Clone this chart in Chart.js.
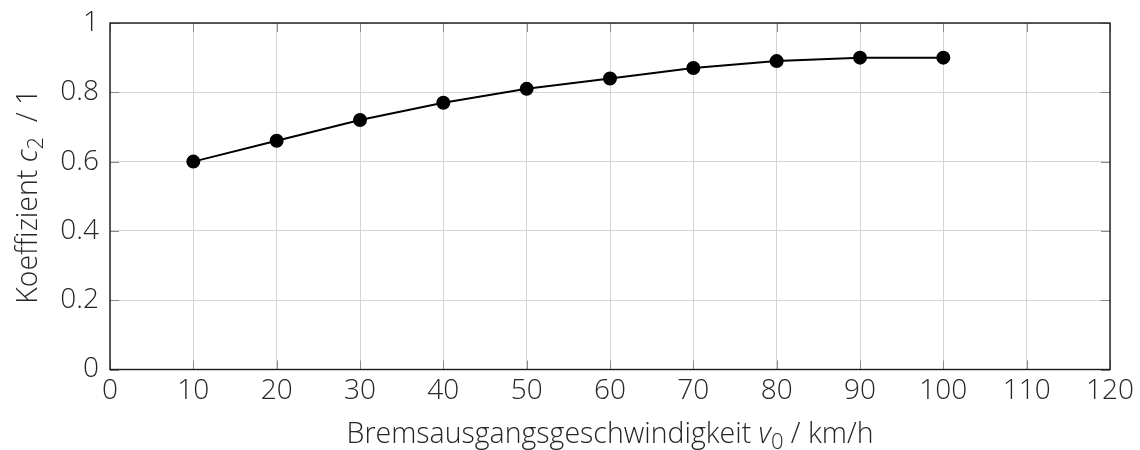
<!DOCTYPE html>
<html>
<head>
<meta charset="utf-8">
<script src="https://cdn.jsdelivr.net/npm/chart.js@4"></script>
<style>
  html, body { margin: 0; padding: 0; background: #fff; }
  #wrap { width: 1140px; height: 450px; }
</style>
</head>
<body>
<div id="wrap"><canvas id="c"></canvas></div>
<script>
// Braking start speed (km/h) and the fitted coefficient c2
const speeds = [10, 20, 30, 40, 50, 60, 70, 80, 90, 100];
const coeffC2 = [0.60, 0.66, 0.72, 0.77, 0.81, 0.84, 0.87, 0.89, 0.90, 0.90];

const xRange = [0, 120];
const yRange = [0, 1];
const xStep = 10;
const yStep = 0.2;

// Axis titles as rich-text runs: [text, style]
const xTitle = [["Bremsausgangsgeschwindigkeit ", "n"], ["v", "i"], ["0", "sub"], [" / km/h", "n"]];
const yTitle = [["Koeffizient ", "n"], ["c", "i"], ["2", "sub"], ["  / 1", "n"]];

const FONT = "'Open Sans', sans-serif";
const FS = 28;
const TITLE_FS = 28.5;

function runFont(style) {
  if (style === "i") return `italic 300 ${TITLE_FS}px ${FONT}`;
  if (style === "sub") return `300 ${Math.round(TITLE_FS * 0.76)}px ${FONT}`;
  return `300 ${TITLE_FS}px ${FONT}`;
}

function drawRich(ctx, runs, cx, cy) {
  let total = 0;
  const widths = runs.map(([t, s]) => { ctx.font = runFont(s); const w = ctx.measureText(t).width; total += w; return w; });
  let x = cx - total / 2;
  ctx.textBaseline = "alphabetic";
  ctx.textAlign = "left";
  runs.forEach(([t, s], i) => {
    ctx.font = runFont(s);
    ctx.fillText(t, x, s === "sub" ? cy + TITLE_FS * 0.22 : cy);
    x += widths[i];
  });
}

// Inward tick marks on all four sides, frame and axis titles
const framePlugin = {
  id: "frame",
  afterDraw(chart) {
    const { ctx, chartArea: a, scales } = chart;
    const len = 9;
    ctx.save();
    ctx.strokeStyle = "#8a8a8a";
    ctx.lineWidth = 1;
    ctx.beginPath();
    scales.x.ticks.forEach(t => {
      const px = Math.round(scales.x.getPixelForValue(t.value)) + 0.5;
      ctx.moveTo(px, a.bottom); ctx.lineTo(px, a.bottom - len);
      ctx.moveTo(px, a.top); ctx.lineTo(px, a.top + len);
    });
    scales.y.ticks.forEach(t => {
      const py = Math.round(scales.y.getPixelForValue(t.value)) + 0.5;
      ctx.moveTo(a.left, py); ctx.lineTo(a.left + len, py);
      ctx.moveTo(a.right, py); ctx.lineTo(a.right - len, py);
    });
    ctx.stroke();
    ctx.strokeStyle = "#1a1a1a";
    ctx.lineWidth = 1.4;
    ctx.strokeRect(a.left, a.top, a.right - a.left, a.bottom - a.top);

    ctx.fillStyle = "#262626";
    drawRich(ctx, xTitle, (a.left + a.right) / 2, 443);
    ctx.translate(37, (a.top + a.bottom) / 2);
    ctx.rotate(-Math.PI / 2);
    drawRich(ctx, yTitle, 0, 0);
    ctx.restore();
  }
};

new Chart(document.getElementById("c"), {
  type: "line",
  data: {
    datasets: [{
      data: speeds.map((v, i) => ({ x: v, y: coeffC2[i] })),
      borderColor: "#000",
      backgroundColor: "#000",
      borderWidth: 2,
      pointRadius: 6,
      pointHoverRadius: 6,
      tension: 0
    }]
  },
  options: {
    responsive: true,
    maintainAspectRatio: false,
    animation: false,
    events: [],
    layout: { padding: { top: 23, right: 30, bottom: 0, left: 0 } },
    plugins: { legend: { display: false }, tooltip: { enabled: false } },
    scales: {
      x: {
        type: "linear",
        min: xRange[0], max: xRange[1],
        afterFit(s) { s.height = 80.5; s.paddingLeft = 0; s.paddingRight = 0; },
        grid: { color: "#d4d4d4", lineWidth: 1, drawTicks: false },
        border: { display: false },
        ticks: { stepSize: xStep, padding: 5, color: "#262626", font: { family: FONT, size: FS, weight: 300 } }
      },
      y: {
        min: yRange[0], max: yRange[1],
        afterFit(s) { s.width = 110; s.paddingTop = 0; s.paddingBottom = 0; },
        grid: { color: "#d4d4d4", lineWidth: 1, drawTicks: false },
        border: { display: false },
        ticks: {
          stepSize: yStep, padding: 11, color: "#262626",
          font: { family: FONT, size: FS, weight: 300 },
          callback: v => String(Math.round(v * 10) / 10)
        }
      }
    }
  },
  plugins: [framePlugin]
});
</script>
</body>
</html>
